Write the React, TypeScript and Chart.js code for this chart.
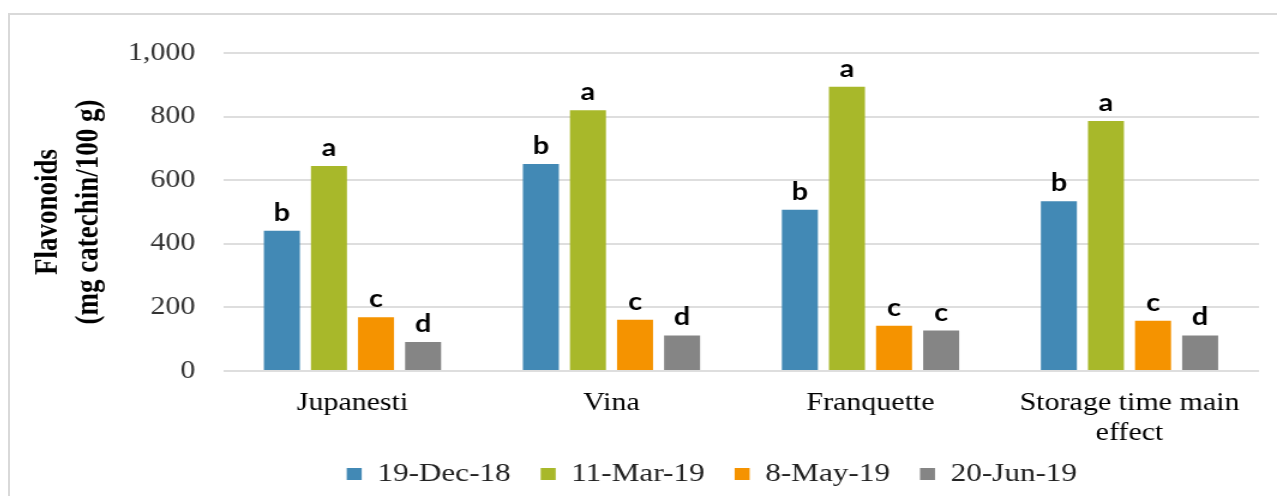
import React, { useEffect, useRef } from 'react';
import { Chart, registerables } from 'chart.js';

Chart.register(...registerables);

// ---- data ----
const categories: (string | string[])[] = ['Jupanesti', 'Vina', 'Franquette', ['Storage time main', 'effect']];
const seriesNames = ['19-Dec-18', '11-Mar-19', '8-May-19', '20-Jun-19'];
const dec18 = [441, 651, 507, 534];
const mar19 = [645, 820, 894, 786];
const may19 = [169, 161, 142, 158];
const jun19 = [91, 112, 127, 112];
const dec18Letters = ['b', 'b', 'b', 'b'];
const mar19Letters = ['a', 'a', 'a', 'a'];
const may19Letters = ['c', 'c', 'c', 'c'];
const jun19Letters = ['d', 'd', 'c', 'd'];
const yTicks = [0, 200, 400, 600, 800, 1000];
const yTitle = ['Flavonoids', '(mg catechin/100 g)'];

// ---- styles ----
const colors = ['#4289b5', '#a8b82a', '#f59300', '#858585'];
const SERIF = "'Liberation Serif', 'Times New Roman', serif";
const CANVAS_W = 1056; // drawing width; shown 1.2x wider, like the stretched reference
const CANVAS_H = 500;
const LEGEND_CENTER_X = 585;
const LEGEND_TEXT_Y = 459;
const Y_AXIS_W = 167.5;

const seriesValues = [dec18, mar19, may19, jun19];
const seriesLetters = [dec18Letters, mar19Letters, may19Letters, jun19Letters];

const letterPlugin = {
  id: 'letterLabels',
  afterDatasetsDraw(chart: any) {
    const { ctx } = chart;
    ctx.save();
    ctx.font = "bold 24px Lato, 'Open Sans', sans-serif";
    ctx.fillStyle = '#000';
    ctx.textAlign = 'center';
    ctx.textBaseline = 'alphabetic';
    chart.data.datasets.forEach((_ds: any, i: number) => {
      const meta = chart.getDatasetMeta(i);
      meta.data.forEach((el: any, j: number) => {
        ctx.fillText(seriesLetters[i][j], el.x, el.y - 10);
      });
    });
    ctx.restore();
  },
};

const legendShift = {
  id: 'legendShift',
  afterLayout(chart: any) {
    const lg = chart.legend;
    if (!lg) return;
    const dx = LEGEND_CENTER_X - (lg.left + lg.right) / 2;
    lg.left += dx;
    lg.right += dx;
    const pad = lg.options.labels.padding;
    const size = lg.options.labels.font.size;
    const dy = LEGEND_TEXT_Y - (lg.top + pad + size / 2);
    lg.top += dy;
    lg.bottom += dy;
  },
};

export default function App() {
  const ref = useRef<HTMLCanvasElement | null>(null);

  useEffect(() => {
    if (!ref.current) return;
    const chart = new Chart(ref.current, {
      type: 'bar',
      data: {
        labels: categories as any,
        datasets: seriesNames.map((name, i) => ({
          label: name,
          data: seriesValues[i],
          backgroundColor: colors[i],
          borderWidth: 0,
          barPercentage: 0.765,
          categoryPercentage: 0.727,
        })),
      },
      options: {
        responsive: false,
        animation: false,
        events: [],
        layout: { padding: { top: 32, left: 10, right: 15, bottom: 5 } },
        scales: {
          x: {
            grid: { display: false, drawTicks: false },
            border: { display: false },
            ticks: {
              font: { family: SERIF, size: 25, lineHeight: 1.2 },
              color: '#000',
              padding: 17,
              maxRotation: 0,
              autoSkip: false,
            },
            afterFit: (s: any) => {
              s.height = 78;
            },
          },
          y: {
            min: 0,
            max: 1000,
            afterBuildTicks: (s: any) => {
              s.ticks = yTicks.map((v) => ({ value: v }));
            },
            afterFit: (s: any) => {
              s.width = Y_AXIS_W;
            },
            grid: { color: '#dedede', lineWidth: 2, drawTicks: false },
            border: { display: false },
            ticks: {
              font: { family: SERIF, size: 25 },
              color: '#333',
              padding: 23,
            },
            title: {
              display: true,
              text: yTitle,
              font: { family: SERIF, size: 27, weight: 'bold', lineHeight: 1.26 },
              color: '#000',
              padding: { top: 5, bottom: 15 },
            },
          },
        },
        plugins: {
          tooltip: { enabled: false },
          legend: {
            position: 'bottom',
            labels: {
              font: { family: SERIF, size: 26 },
              color: '#222',
              boxWidth: 12.5,
              boxHeight: 12,
              padding: 25,
            },
          },
        },
      } as any,
      plugins: [letterPlugin, legendShift],
    });
    return () => chart.destroy();
  }, []);

  return (
    <div
      style={{
        position: 'fixed',
        left: 0,
        top: 0,
        width: 1277,
        height: 496,
        overflow: 'hidden',
        background: '#fff',
      }}
    >
      <div
        style={{
          position: 'absolute',
          left: 8,
          top: 13,
          width: 1320,
          height: 520,
          border: '2px solid #d9d9d9',
          boxSizing: 'border-box',
        }}
      />
      <canvas
        ref={ref}
        width={CANVAS_W}
        height={CANVAS_H}
        style={{
          position: 'absolute',
          left: 10,
          top: 15,
          width: CANVAS_W * 1.2,
          height: CANVAS_H,
        }}
      />
    </div>
  );
}
